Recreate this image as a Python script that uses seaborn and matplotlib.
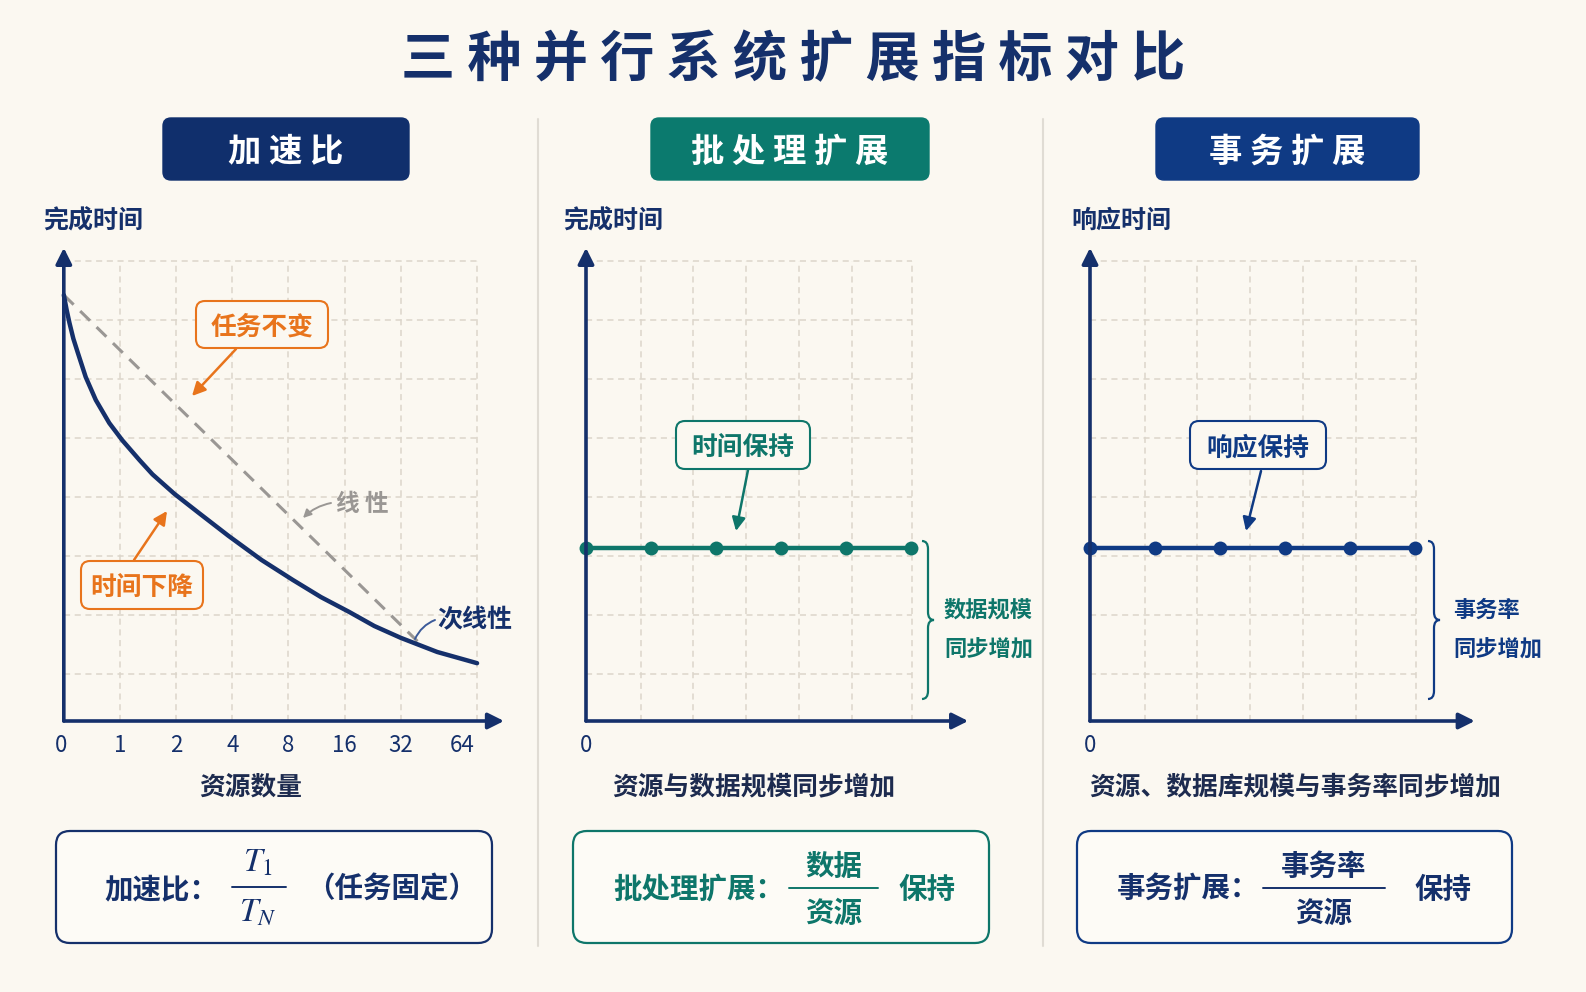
import numpy as np
import pandas as pd
import matplotlib.pyplot as plt
import seaborn as sns
from matplotlib.patches import FancyBboxPatch, PathPatch
from matplotlib.path import Path

sns.set_theme(style="white")
plt.rcParams['font.family'] = ['Noto Sans CJK SC', 'DejaVu Sans']
plt.rcParams['mathtext.fontset'] = 'stix'
plt.rcParams['axes.unicode_minus'] = False

# ---------------- data ----------------
speedup_ticks = ["0", "1", "2", "4", "8", "16", "32", "64"]
speedup_x = [0, 0.05, 0.10, 0.17, 0.25, 0.39, 0.57, 0.81, 1.04, 1.35, 1.58, 1.97, 2.40, 2.93,
             3.52, 4.08, 4.58, 5.08, 5.53, 6.00, 6.65, 7.36]
speedup_time = [7.22, 6.97, 6.75, 6.48, 6.24, 5.83, 5.44, 5.05, 4.76, 4.42, 4.18, 3.85, 3.53, 3.14,
                2.73, 2.39, 2.10, 1.85, 1.61, 1.41, 1.17, 0.98]
linear_x = [0, 6.30]
linear_time = [7.22, 1.35]

batch_x = [0, 1, 2, 3, 4, 5]
batch_time = [2.93, 2.93, 2.93, 2.93, 2.93, 2.93]
trans_x = [0, 1, 2, 3, 4, 5]
trans_time = [2.93, 2.93, 2.93, 2.93, 2.93, 2.93]

# ---------------- colours ----------------
BG = '#fbf8f1'
NAVY = '#15306b'
BLUE = '#0f3a84'
TEAL = '#0e766a'
ORANGE = '#e8741c'
GRAY = '#9a9794'
GRID = '#dcd6cb'
SEP = '#e0dcd4'
DARK = '#1d2b4f'
TY = 3  # small downward nudge for CJK text centring

W, H = 1586, 992
fig = plt.figure(figsize=(W / 100, H / 100), dpi=100)
fig.patch.set_facecolor(BG)


def pixel_axes(z):
    a = fig.add_axes([0, 0, 1, 1], zorder=z)
    a.set_xlim(0, W)
    a.set_ylim(H, 0)
    a.axis('off')
    return a


bg = pixel_axes(0)
top = pixel_axes(3)


def panel_axes(ox, oy, ux, uy, xmax, ymax):
    a = fig.add_axes([ox / W, (H - oy) / H, xmax * ux / W, ymax * uy / H], zorder=1)
    a.set_xlim(0, xmax)
    a.set_ylim(0, ymax)
    a.set_facecolor('none')
    for s in a.spines.values():
        s.set_visible(False)
    a.set_yticks([])
    a.tick_params(axis='x', length=0, pad=9, labelsize=16, labelcolor=NAVY)
    return a


def draw_grid(a, xs, ys, xr, yt):
    for x in xs:
        a.plot([x, x], [0, yt], color=GRID, lw=1.1, dashes=(4, 3), zorder=0)
    for y in ys:
        a.plot([0, xr], [y, y], color=GRID, lw=1.1, dashes=(4, 3), zorder=0)


def draw_axes_arrows(a, xend, yend, color):
    a.annotate('', xy=(xend, 0), xytext=(0, 0),
               arrowprops=dict(arrowstyle='-|>', color=color, lw=2.6, mutation_scale=24,
                               shrinkA=0, shrinkB=0), annotation_clip=False)
    a.annotate('', xy=(0, yend), xytext=(0, 0),
               arrowprops=dict(arrowstyle='-|>', color=color, lw=2.6, mutation_scale=24,
                               shrinkA=0, shrinkB=0), annotation_clip=False)


def rbox(a, x0, y0, x1, y1, ec, fc, lw, r):
    p = FancyBboxPatch((x0, y0), x1 - x0, y1 - y0,
                       boxstyle=f"round,pad=0,rounding_size={r}",
                       ec=ec, fc=fc, lw=lw)
    a.add_patch(p)


def brace(a, x, y0, y1, color):
    ym = (y0 + y1) / 2
    verts = [(x, y0), (x + 6, y0), (x + 6, y0 + 8),
             (x + 6, ym - 8), (x + 6, ym), (x + 12, ym),
             (x + 6, ym), (x + 6, ym + 8),
             (x + 6, y1 - 8), (x + 6, y1), (x, y1)]
    codes = [Path.MOVETO, Path.CURVE3, Path.CURVE3,
             Path.LINETO, Path.CURVE3, Path.CURVE3,
             Path.CURVE3, Path.CURVE3,
             Path.LINETO, Path.CURVE3, Path.CURVE3]
    a.add_patch(PathPatch(Path(verts, codes), fc='none', ec=color, lw=1.6))


# ---------------- title / headers / separators ----------------
bg.text(793, 58 + TY, " ".join("三种并行系统扩展指标对比"), ha='center', va='center',
        fontsize=39, fontweight='bold', color=NAVY)

headers = [("加速比", 163, 409, '#102f6c'),
           ("批处理扩展", 651, 929, '#0b7a6e'),
           ("事务扩展", 1156, 1419, BLUE)]
for name, x0, x1, c in headers:
    rbox(bg, x0, 118, x1, 180, c, c, 1, 8)
    bg.text((x0 + x1) / 2, 149 + TY, " ".join(name), ha='center', va='center',
            fontsize=24, fontweight='bold', color='white')

for x in [538, 1043]:
    bg.plot([x, x], [119, 946], color=SEP, lw=1.5)

# ---------------- panel 1: speedup ----------------
ax1 = panel_axes(61, 721, 56.5, 59, 8.0, 8.1)
draw_grid(ax1, [1, 2, 3, 4, 5, 6, 7.36], [0.8 + i for i in range(8)], 7.36, 7.8)
sns.lineplot(x=linear_x, y=linear_time, ax=ax1, color=GRAY, lw=2.2,
             linestyle=(0, (4.5, 3)), zorder=2)
sns.lineplot(x=speedup_x, y=speedup_time, ax=ax1, color=NAVY, lw=3.2,
             sort=False, zorder=3, clip_on=False)
draw_axes_arrows(ax1, 7.84, 8.02, NAVY)
ax1.set_xticks([-0.05, 1, 2, 3, 4, 5, 6, 7.1])
ax1.set_xticklabels(speedup_ticks)

# ---------------- panel 2: batch scaling ----------------
ax2 = panel_axes(586, 721, 65, 59, 6.0, 8.1)
grid_x23 = [0.85, 1.65, 2.46, 3.28, 4.09, 5.02]
draw_grid(ax2, grid_x23, [0.8 + i for i in range(8)], 5.02, 7.8)
sns.lineplot(x=batch_x, y=batch_time, ax=ax2, color=TEAL, lw=3.2, marker='o',
             markersize=10, markeredgewidth=0, zorder=3, clip_on=False)
draw_axes_arrows(ax2, 5.88, 8.02, NAVY)
ax2.set_xticks([0])
ax2.set_xticklabels(["0"])

# ---------------- panel 3: transaction scaling ----------------
ax3 = panel_axes(1090, 721, 65, 59, 6.0, 8.1)
draw_grid(ax3, grid_x23, [0.8 + i for i in range(8)], 5.02, 7.8)
sns.lineplot(x=trans_x, y=trans_time, ax=ax3, color=BLUE, lw=3.2, marker='o',
             markersize=10, markeredgewidth=0, zorder=3, clip_on=False)
draw_axes_arrows(ax3, 5.92, 8.02, NAVY)
ax3.set_xticks([0])
ax3.set_xticklabels(["0"])

# ---------------- axis titles ----------------
for x, t in [(43, "完成时间"), (563, "完成时间"), (1071, "响应时间")]:
    bg.text(x, 218 + TY, t, ha='left', va='center', fontsize=18, fontweight='bold', color=NAVY)
for x, t in [(251, "资源数量"), (754, "资源与数据规模同步增加"),
             (1295, "资源、数据库规模与事务率同步增加")]:
    bg.text(x, 784 + TY, t, ha='center', va='center', fontsize=18.5, fontweight='bold', color=DARK)

# ---------------- callouts ----------------
def callout(text, x0, y0, x1, y1, color, start, tip):
    rbox(top, x0, y0, x1, y1, color, BG, 1.5, 9)
    top.text((x0 + x1) / 2, (y0 + y1) / 2 + TY, text, ha='center', va='center',
             fontsize=18.5, fontweight='bold', color=color)
    top.annotate('', xy=tip, xytext=start,
                 arrowprops=dict(arrowstyle='-|>', color=color, lw=1.8,
                                 mutation_scale=20, shrinkA=0, shrinkB=0))


callout("任务不变", 196, 301, 328, 348, ORANGE, (236, 349), (192, 396))
callout("时间下降", 81, 561, 203, 609, ORANGE, (134, 560), (167, 511))
callout("时间保持", 676, 421, 810, 469, TEAL, (748, 470), (736, 531))
callout("响应保持", 1190, 421, 1326, 469, BLUE, (1261, 471), (1246, 531))

top.text(336, 501 + TY, "线 性", ha='left', va='center', fontsize=17, fontweight='bold', color=GRAY)
top.annotate('', xy=(303, 518), xytext=(331, 503),
             arrowprops=dict(arrowstyle='-|>', color=GRAY, lw=1.4, mutation_scale=12,
                             shrinkA=0, shrinkB=0, connectionstyle="arc3,rad=0.15"))
top.text(437, 617 + TY, "次线性", ha='left', va='center', fontsize=18, fontweight='bold', color=NAVY)
top.annotate('', xy=(415, 639), xytext=(435, 620),
             arrowprops=dict(arrowstyle='-', color='#3b5a99', lw=1.4,
                             shrinkA=0, shrinkB=0, connectionstyle="arc3,rad=0.2"))

brace(top, 922, 541, 699, TEAL)
top.text(944, 607 + TY, "数据规模", ha='left', va='center', fontsize=16, fontweight='bold', color=TEAL)
top.text(944, 647 + TY, "同步增加", ha='left', va='center', fontsize=16, fontweight='bold', color=TEAL)
brace(top, 1428, 541, 699, BLUE)
top.text(1453, 607 + TY, "事务率", ha='left', va='center', fontsize=16, fontweight='bold', color=BLUE)
top.text(1453, 647 + TY, "同步增加", ha='left', va='center', fontsize=16, fontweight='bold', color=BLUE)

# ---------------- formula boxes ----------------
FS = 20.5
rbox(bg, 56, 831, 492, 943, NAVY, '#fdfbf6', 1.6, 14)
bg.text(104, 887 + TY, "加速比：", ha='left', va='center', fontsize=FS, fontweight='bold', color=NAVY)
bg.text(258, 862, r"$T_1$", ha='center', va='center', fontsize=24, color=NAVY)
bg.plot([232, 286], [887, 887], color=NAVY, lw=1.4)
bg.text(258, 911, r"$T_N$", ha='center', va='center', fontsize=24, color=NAVY)
bg.text(392, 887 + TY, "（任务固定）", ha='center', va='center', fontsize=FS, fontweight='bold', color=NAVY)

rbox(bg, 573, 831, 989, 943, TEAL, '#fdfbf6', 1.6, 14)
bg.text(613, 887 + TY, "批处理扩展：", ha='left', va='center', fontsize=FS, fontweight='bold', color=TEAL)
bg.text(834, 864 + TY, "数据", ha='center', va='center', fontsize=FS, fontweight='bold', color=TEAL)
bg.plot([789, 878], [888, 888], color=TEAL, lw=1.4)
bg.text(834, 911 + TY, "资源", ha='center', va='center', fontsize=FS, fontweight='bold', color=TEAL)
bg.text(927, 887 + TY, "保持", ha='center', va='center', fontsize=FS, fontweight='bold', color=TEAL)

rbox(bg, 1077, 831, 1512, 943, BLUE, '#fdfbf6', 1.6, 14)
bg.text(1117, 887 + TY, "事务扩展：", ha='left', va='center', fontsize=FS, fontweight='bold', color=NAVY)
bg.text(1324, 864 + TY, "事务率", ha='center', va='center', fontsize=FS, fontweight='bold', color=NAVY)
bg.plot([1263, 1385], [888, 888], color=NAVY, lw=1.4)
bg.text(1324, 911 + TY, "资源", ha='center', va='center', fontsize=FS, fontweight='bold', color=NAVY)
bg.text(1443, 887 + TY, "保持", ha='center', va='center', fontsize=FS, fontweight='bold', color=NAVY)

plt.savefig("out.png", dpi=100, facecolor=BG)
